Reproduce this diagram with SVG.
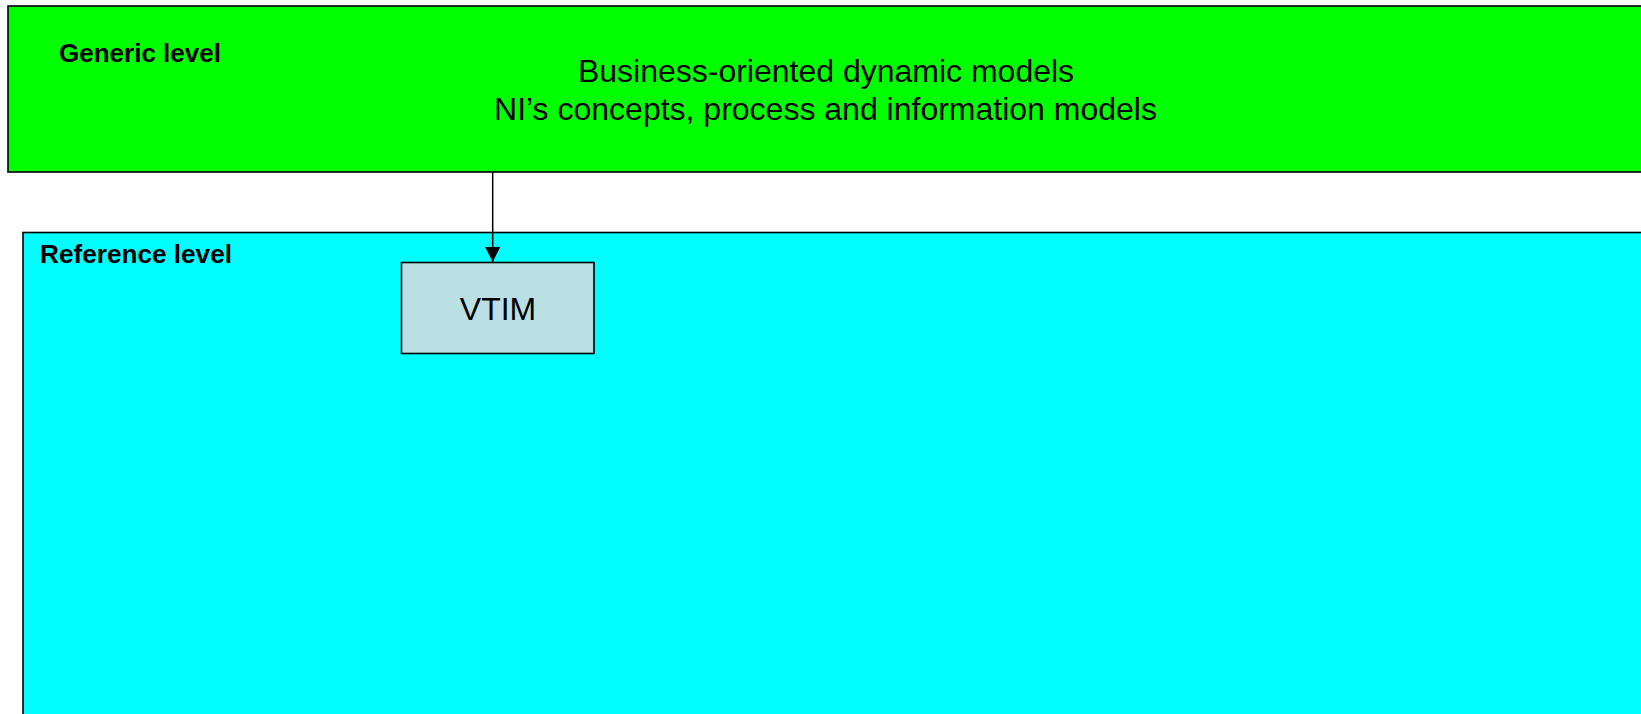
<svg xmlns="http://www.w3.org/2000/svg" width="1641" height="714" viewBox="0 0 1641 714">
<style>
.box{stroke:#000;stroke-width:1.6}
.lbl{font-family:"Liberation Sans",Arial,sans-serif;font-weight:bold;font-size:26px;fill:#000}
.txt{font-family:"Liberation Sans",Arial,sans-serif;font-size:32px;fill:#000}
.conn{stroke:#000;stroke-width:1.5;fill:none}
</style>
<defs>
<marker id="arr" markerWidth="16" markerHeight="16" refX="15" refY="7.5" orient="auto" markerUnits="userSpaceOnUse">
<path d="M0,0 L15,7.5 L0,15 Z" fill="#000"/>
</marker>
</defs>
<rect width="1641" height="714" fill="#fff"/>
<g id="generic-level">
<rect class="box" x="8" y="6" width="1650" height="166" fill="#00ff00"/>
<text class="lbl" x="59" y="62" textLength="162" lengthAdjust="spacingAndGlyphs">Generic level</text>
<text class="txt" x="826" y="82" text-anchor="middle">Business-oriented dynamic models</text>
<text class="txt" x="825.5" y="120" text-anchor="middle">NI’s concepts, process and information models</text>
</g>
<g id="reference-level">
<rect class="box" x="23" y="232.5" width="1650" height="500" fill="#00ffff"/>
<text class="lbl" x="40" y="263" textLength="192" lengthAdjust="spacingAndGlyphs">Reference level</text>
</g>
<g id="vtim">
<rect class="box" x="401.5" y="262.5" width="192.5" height="91" fill="#bbe0e3"/>
<text class="txt" x="498" y="320" text-anchor="middle">VTIM</text>
</g>
<g id="connectors">
<line class="conn" x1="492.7" y1="172" x2="492.7" y2="262" marker-end="url(#arr)"/>
</g>
</svg>
